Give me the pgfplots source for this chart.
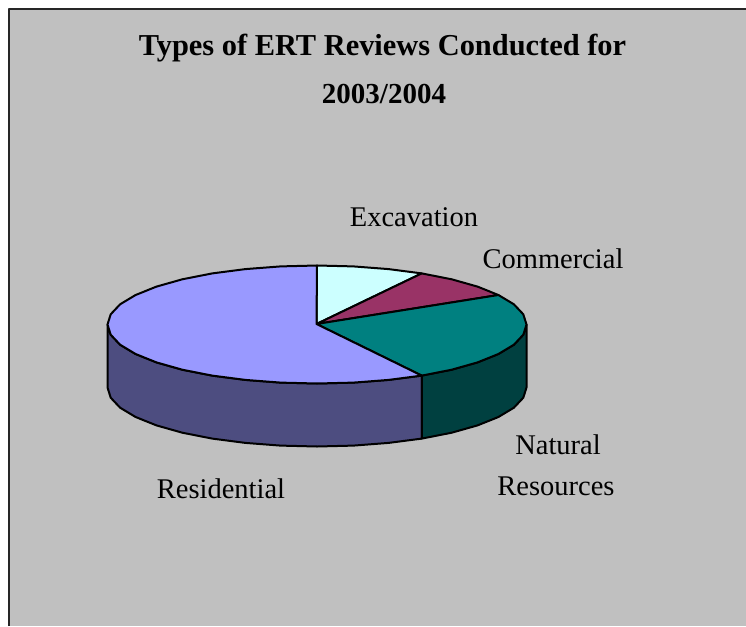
\documentclass[border=0pt]{standalone}
\usepackage{pgfplots}
\usepackage{fontspec}
\setmainfont{Liberation Serif}
\pgfplotsset{compat=1.18}
\definecolor{panel}{HTML}{C0C0C0}
\definecolor{resTop}{HTML}{9999FF}
\definecolor{resSide}{HTML}{4D4D80}
\definecolor{excTop}{HTML}{CCFFFF}
\definecolor{comTop}{HTML}{993366}
\definecolor{natTop}{HTML}{008080}
\definecolor{natSide}{HTML}{004040}
\begin{document}
\begin{tikzpicture}
\begin{axis}[
  scale only axis, width=746pt, height=626pt,
  xmin=0, xmax=746, ymin=0, ymax=626, y dir=reverse,
  hide axis,
  every axis plot/.append style={line width=2pt, line join=round, no markers, black},
]
% white page behind the panel, spanning the whole axis
\addplot[draw=none, fill=white] coordinates {(0,0) (746,0) (746,626) (0,626)} -- cycle;
% chart panel with its top and left frame lines
\addplot[draw=none, fill=panel] coordinates {(8.5,9) (746,9) (746,626) (8.5,626)} -- cycle;
\addplot[line width=2pt, draw=black!85] coordinates {(8.5,626) (8.5,9) (746,9)};

% rim of the pie: Residential 7 parts, Natural Resources 3 parts
\addplot[fill=resSide, draw=black] coordinates {
 (421.75,375.6) (388.6,379.9) (353.4,382.6) (317,383.5) (280.6,382.6) (245.4,379.9)
 (212.25,375.6) (182.3,369.7) (156.5,362.4) (135.6,354.0) (120.1,344.7) (110.7,334.7) (107.5,324.5)
 (107.5,387.5) (110.7,397.7) (120.1,407.7) (135.6,417.0) (156.5,425.4) (182.3,432.7) (212.25,438.6)
 (245.4,442.9) (280.6,445.6) (317,446.5) (353.4,445.6) (388.6,442.9) (421.75,438.6)} -- cycle;
\addplot[fill=natSide, draw=black] coordinates {
 (526.5,324.5) (523.3,334.7) (513.9,344.7) (498.4,354.0) (477.5,362.4) (451.7,369.7) (421.75,375.6)
 (421.75,438.6) (451.7,432.7) (477.5,425.4) (498.4,417.0) (513.9,407.7) (523.3,397.7) (526.5,387.5)} -- cycle;

% top face, slice by slice
\addplot[fill=excTop, draw=black] coordinates {
 (316.5,324) (317,265.5) (353.4,266.4) (388.6,269.1) (421.75,273.4)} -- cycle;
\addplot[fill=comTop, draw=black] coordinates {
 (316.5,324) (421.75,273.4) (451.7,279.3) (477.5,286.6) (498.4,295.0)} -- cycle;
\addplot[fill=natTop, draw=black] coordinates {
 (316.5,324) (498.4,295.0) (513.9,304.3) (523.3,314.3) (526.5,324.5) (523.3,334.7) (513.9,344.7)
 (498.4,354.0) (477.5,362.4) (451.7,369.7) (421.75,375.6)} -- cycle;
\addplot[fill=resTop, draw=black] coordinates {
 (316.5,324) (421.75,375.6) (388.6,379.9) (353.4,382.6) (317,383.5) (280.6,382.6) (245.4,379.9)
 (212.25,375.6) (182.3,369.7) (156.5,362.4) (135.6,354.0) (120.1,344.7) (110.7,334.7) (107.5,324.5)
 (110.7,314.3) (120.1,304.3) (135.6,295.0) (156.5,286.6) (182.3,279.3) (212.25,273.4) (245.4,269.1)
 (280.6,266.4) (317,265.5)} -- cycle;

% title and slice names
\node[anchor=base, font=\fontsize{30.4}{30}\selectfont\bfseries] at (axis cs:382.5,56) {Types of ERT Reviews Conducted for};
\node[anchor=base, font=\fontsize{29}{29}\selectfont\bfseries] at (axis cs:384,103) {2003/2004};
\node[anchor=base, font=\fontsize{28.5}{28}\selectfont] at (axis cs:414,226) {Excavation};
\node[anchor=base, font=\fontsize{28.5}{28}\selectfont] at (axis cs:553,268) {Commercial};
\node[anchor=base, font=\fontsize{28.5}{28}\selectfont] at (axis cs:558,454) {Natural};
\node[anchor=base, font=\fontsize{28.5}{28}\selectfont] at (axis cs:556,495) {Resources};
\node[anchor=base, font=\fontsize{28.5}{28}\selectfont] at (axis cs:221,498) {Residential};
\end{axis}
\end{tikzpicture}
\end{document}
